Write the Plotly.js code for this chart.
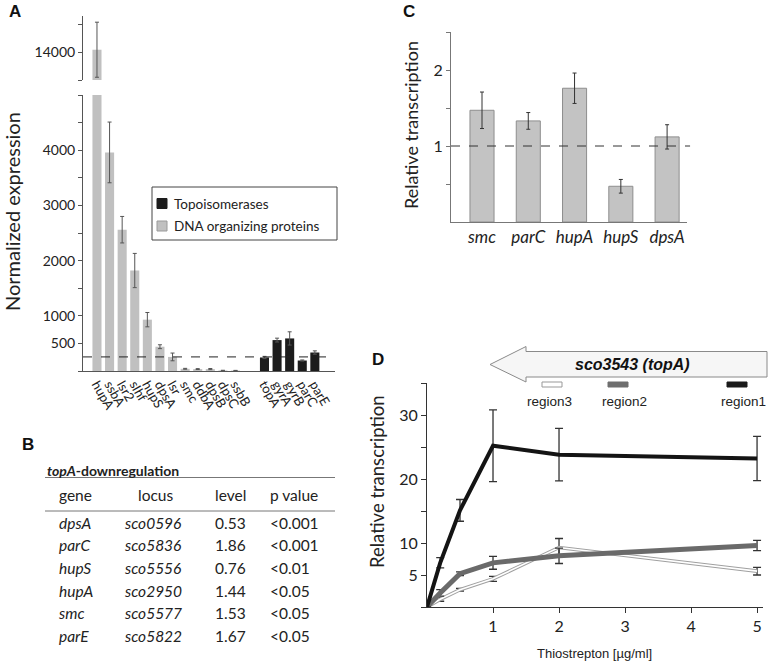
<!DOCTYPE html>
<html><head><meta charset="utf-8">
<script src="https://cdn.plot.ly/plotly-3.0.1.min.js"></script>
<style>html,body{margin:0;padding:0;background:#fff}#chart{width:769px;height:663px}</style>
</head><body><div id="chart"></div>
<script>
// ---------- Panel A data ----------
const dnaGenes = ['hupA','ssbA','lsr2','sIhf','hupS','dpsA','lsr','smc','ddbA','dpsB','dpsC','ssbB'];
const dnaExpr  = [14200, 3960, 2560, 1820, 930, 440, 255, 40, 35, 35, 10, 8];
const dnaErr   = [2000, 550, 240, 310, 130, 35, 70, 8, 8, 10, 3, 3];
const topoGenes = ['topA','gyrA','gyrB','parC','parE'];
const topoExpr  = [245, 560, 590, 190, 335];
const topoErr   = [20, 35, 120, 10, 30];
const thresholdA = 255;
const legendA = ['Topoisomerases', 'DNA organizing proteins'];
const ticksALower = [500, 1000, 2000, 3000, 4000];
const ticksAUpper = [14000];
// ---------- Panel B data ----------
const tblTitle = 'topA-downregulation';
const tblHeader = ['gene', 'locus', 'level', 'p value'];
const tblGene  = ['dpsA','parC','hupS','hupA','smc','parE'];
const tblLocus = ['sco0596','sco5836','sco5556','sco2950','sco5577','sco5822'];
const tblLevel = ['0.53','1.86','0.76','1.44','1.53','1.67'];
const tblP     = ['<0.001','<0.001','<0.01','<0.05','<0.05','<0.05'];
// ---------- Panel C data ----------
const cGenes  = ['smc','parC','hupA','hupS','dpsA'];
const cValues = [1.47, 1.33, 1.76, 0.47, 1.12];
const cErr    = [0.24, 0.11, 0.20, 0.09, 0.16];
const cThreshold = 1;
// ---------- Panel D data ----------
const doses      = [0, 0.2, 0.5, 1, 2, 5];
const region1    = [0, 6.9, 15.1, 25.2, 23.8, 23.2];
const region1Err = [null, 0.8, 1.7, 5.6, 4.1, 3.45];
const region2    = [0, 2.2, 5.2, 6.9, 8.0, 9.6];
const region2Err = [null, 0.5, 0.3, 1.0, 1.2, 0.8];
const region3    = [0, 1.2, 2.7, 4.4, 9.3, 5.6];
const region3Err = [null, 0.3, 0.2, 0.4, 1.4, 0.6];
const regionNames = ['region3', 'region2', 'region1'];
const geneLabelD = 'sco3543 (topA)';

// ---------- helpers ----------
const W = 769, H = 663;
const px = v => v / W, py = v => 1 - v / H;
const LATO = 'Lato, Carlito, "Liberation Sans", sans-serif';
const ARIAL = '"Liberation Sans", Arial, sans-serif';
const esc = s => s.replace(/&/g,'&amp;').replace(/</g,'&lt;').replace(/>/g,'&gt;');
const GRAY = '#c0c0c0', BLACK = '#1c1c1c';

// ---------- positions for panel A ----------
const dnaX = dnaGenes.map((_, i) => i);
const topoX = topoGenes.map((_, j) => dnaGenes.length + 1.3 + j);

const traces = [];
// lower part (0-5000)
traces.push({type:'bar', x:dnaX, y:dnaExpr, xaxis:'x', yaxis:'y', width:0.72,
  marker:{color:GRAY, line:{width:0}},
  error_y:{type:'data', array:dnaErr.map((e,i)=> dnaExpr[i] > 5000 ? null : e), color:'#555', thickness:1, width:2},
  hoverinfo:'skip'});
traces.push({type:'bar', x:topoX, y:topoExpr, xaxis:'x', yaxis:'y', width:0.72,
  marker:{color:BLACK, line:{width:0}},
  error_y:{type:'data', array:topoErr, color:'#555', thickness:1, width:2},
  hoverinfo:'skip'});
// upper (broken) part: bars starting at the break (12000)
traces.push({type:'bar', x:dnaX, y:dnaExpr.map(v => v > 5000 ? v - 12000 : null), xaxis:'x', yaxis:'y2', width:0.72, base:12000,
  marker:{color:GRAY, line:{width:0}},
  error_y:{type:'data', array:dnaErr.map((e,i)=> dnaExpr[i] > 5000 ? e : null), color:'#555', thickness:1, width:2},
  hoverinfo:'skip'});
// Panel C
traces.push({type:'bar', x:cGenes.map((_,i)=>i), y:cValues, xaxis:'x3', yaxis:'y3', width:0.52,
  marker:{color:'#c3c3c3', line:{color:'#8e8e8e', width:1}},
  error_y:{type:'data', array:cErr, color:'#333', thickness:1, width:2},
  hoverinfo:'skip'});
// Panel D
const errD = arr => ({type:'data', array:arr, color:'#333', thickness:1.3, width:4});
traces.push({type:'scatter', mode:'lines', x:doses, y:region3, xaxis:'x4', yaxis:'y4',
  line:{color:'#a0a0a0', width:3.6}, error_y:errD(region3Err), hoverinfo:'skip'});
traces.push({type:'scatter', mode:'lines', x:doses, y:region3, xaxis:'x4', yaxis:'y4',
  line:{color:'#ffffff', width:1.6}, hoverinfo:'skip'});
traces.push({type:'scatter', mode:'lines', x:doses, y:region2, xaxis:'x4', yaxis:'y4',
  line:{color:'#6a6a6a', width:5}, error_y:errD(region2Err), hoverinfo:'skip'});
traces.push({type:'scatter', mode:'lines', x:doses, y:region1, xaxis:'x4', yaxis:'y4',
  line:{color:'#141414', width:4}, error_y:errD(region1Err), hoverinfo:'skip'});

// ---------- axes ----------
const lowerVals = [], lowerText = [];
for (let v = 0; v <= 5000; v += 500) { lowerVals.push(v); lowerText.push(ticksALower.includes(v) ? String(v) : ''); }
const upperVals = [12000, 14000, 16000];
const upperText = upperVals.map(v => ticksAUpper.includes(v) ? String(v) : '');
const dVals = [], dText = [];
for (let v = 0; v <= 35; v += 5) { dVals.push(v); dText.push([5,10,20,30].includes(v) ? String(v) : ''); }

const common = {showgrid:false, zeroline:false, fixedrange:true, showline:true};
const layout = {
  width:W, height:H, margin:{l:0,r:0,t:0,b:0},
  paper_bgcolor:'#ffffff', plot_bgcolor:'rgba(0,0,0,0)',
  showlegend:false, barmode:'overlay',
  font:{family:LATO, color:'#222'},
  xaxis:Object.assign({}, common, {domain:[px(83), px(335)], range:[-1.11, 18.9], anchor:'y',
    tickvals:dnaX.concat(topoX), ticktext:dnaGenes.concat(topoGenes), tickangle:60, ticks:'',
    linecolor:'#555', linewidth:1, tickfont:{size:13, color:'#222'}}),
  yaxis:Object.assign({}, common, {domain:[py(371), py(95)], range:[0, 5000], anchor:'x',
    tickvals:lowerVals, ticktext:lowerText, ticks:'outside', ticklen:4, tickcolor:'#555',
    linecolor:'#555', tickfont:{size:14, color:'#222'}}),
  yaxis2:Object.assign({}, common, {domain:[py(80), py(16)], range:[12000, 16650], anchor:'x',
    tickvals:upperVals, ticktext:upperText, ticks:'outside', ticklen:4, tickcolor:'#555',
    linecolor:'#555', tickfont:{size:14, color:'#222'}}),
  xaxis3:Object.assign({}, common, {domain:[px(451), px(687)], range:[-0.67, 4.43], anchor:'y3',
    tickvals:cGenes.map((_,i)=>i), ticktext:cGenes.map(g=>'<i>'+g+'</i>'), ticks:'',
    linecolor:'#777', tickfont:{size:17, color:'#222'}}),
  yaxis3:Object.assign({}, common, {domain:[py(222), py(32)], range:[0, 2.5], anchor:'x3',
    tickvals:[0.5,1,1.5,2,2.5], ticktext:['','1','','2',''], ticks:'outside', ticklen:4, tickcolor:'#777',
    linecolor:'#777', tickfont:{size:16, color:'#222'}}),
  xaxis4:Object.assign({}, common, {domain:[px(427), px(763)], range:[0, 5.09], anchor:'y4',
    tickvals:[1,2,3,4,5], ticks:'outside', ticklen:5, tickcolor:'#333',
    linecolor:'#333', tickfont:{size:16, color:'#222'}}),
  yaxis4:Object.assign({}, common, {domain:[py(607), py(383)], range:[0, 35], anchor:'x4',
    tickvals:dVals, ticktext:dText, ticks:'outside', ticklen:5, tickcolor:'#333',
    linecolor:'#333', tickfont:{size:16, color:'#222'}}),
  shapes:[], annotations:[]
};

const S = layout.shapes, A = layout.annotations;
// threshold lines
S.push({type:'line', xref:'x domain', x0:0, x1:1, yref:'y', y0:thresholdA, y1:thresholdA,
  line:{color:'#222', width:1, dash:'dash'}});
S.push({type:'line', xref:'x3 domain', x0:0, x1:1.013, yref:'y3', y0:cThreshold, y1:cThreshold,
  line:{color:'#333', width:1, dash:'dash'}});

// legend A (manual box)
S.push({type:'rect', xref:'paper', yref:'paper', x0:px(152), x1:px(337), y0:py(240), y1:py(187),
  line:{color:'#444', width:1}, fillcolor:'rgba(255,255,255,0)'});
[BLACK, GRAY].forEach((c, i) => {
  const cy = 203.5 + i * 22.5;
  S.push({type:'rect', xref:'paper', yref:'paper', x0:px(157), x1:px(167), y0:py(cy+5), y1:py(cy-5),
    line:{color: i===0 ? BLACK : '#9a9a9a', width:1}, fillcolor:c});
  A.push({text:legendA[i], xref:'paper', yref:'paper', x:px(172), y:py(cy), xanchor:'left', yanchor:'middle',
    showarrow:false, font:{family:LATO, size:13.5, color:'#222'}});
});

// axis titles
A.push({text:'Normalized expression', xref:'paper', yref:'paper', x:px(12), y:py(212), textangle:-90,
  showarrow:false, xanchor:'center', yanchor:'middle', font:{family:LATO, size:20, color:'#222'}});
A.push({text:'Relative transcription', xref:'paper', yref:'paper', x:px(411), y:py(125), textangle:-90,
  showarrow:false, xanchor:'center', yanchor:'middle', font:{family:LATO, size:18, color:'#222'}});
A.push({text:'Relative transcription', xref:'paper', yref:'paper', x:px(377), y:py(482), textangle:-90,
  showarrow:false, xanchor:'center', yanchor:'middle', font:{family:LATO, size:18.5, color:'#222'}});
A.push({text:'Thiostrepton [µg/ml]', xref:'paper', yref:'paper', x:px(594), y:py(653),
  showarrow:false, xanchor:'center', yanchor:'middle', font:{family:ARIAL, size:13, color:'#222'}});

// panel letters
[['A',7,11],['B',20,445],['C',401,11],['D',370,359]].forEach(([t,x,y]) => {
  A.push({text:'<b>'+t+'</b>', xref:'paper', yref:'paper', x:px(x), y:py(y), xanchor:'left', yanchor:'middle',
    showarrow:false, font:{family:ARIAL, size:17, color:'#111'}});
});

// ---------- Panel B table ----------
A.push({text:'<b><i>topA</i>-downregulation</b>', xref:'paper', yref:'paper', x:px(45), y:py(470),
  xanchor:'left', yanchor:'middle', showarrow:false, font:{family:LATO, size:14, color:'#222'}});
S.push({type:'line', xref:'paper', yref:'paper', x0:px(45), x1:px(335), y0:py(477.5), y1:py(477.5), line:{color:'#777', width:1}});
S.push({type:'line', xref:'paper', yref:'paper', x0:px(45), x1:px(335), y0:py(511), y1:py(511), line:{color:'#777', width:1}});
const colX = [57, 136, 213, 268];
tblHeader.forEach((h, j) => {
  A.push({text:esc(h), xref:'paper', yref:'paper', x:px(colX[j]), y:py(495), xanchor:'left', yanchor:'middle',
    showarrow:false, font:{family:LATO, size:15.5, color:'#222'}});
});
const rowX = [57, 123, 213, 268];
tblGene.forEach((g, i) => {
  const y = 522.7 + i * 22.65;
  const cells = ['<i>'+esc(g)+'</i>', '<i>'+esc(tblLocus[i])+'</i>', esc(tblLevel[i]), esc(tblP[i])];
  cells.forEach((c, j) => {
    A.push({text:c, xref:'paper', yref:'paper', x:px(rowX[j]), y:py(y), xanchor:'left', yanchor:'middle',
      showarrow:false, font:{family:LATO, size:15.5, color:'#222'}});
  });
});

// ---------- Panel D gene arrow and region legend ----------
const arrowPts = [[767,351.5],[526,351.5],[526,346.5],[490,364.5],[526,382],[526,377],[767,377]];
S.push({type:'path', xref:'paper', yref:'paper',
  path:'M' + arrowPts.map(p => px(p[0]) + ',' + py(p[1])).join(' L') + ' Z',
  line:{color:'#8a8a8a', width:1}, fillcolor:'#f6f6f6'});
A.push({text:'<b><i>' + esc(geneLabelD) + '</i></b>', xref:'paper', yref:'paper', x:px(632), y:py(364.5),
  xanchor:'center', yanchor:'middle', showarrow:false, font:{family:ARIAL, size:16, color:'#111'}});
const regBars = [
  {x0:542, x1:562, fill:'#ffffff', line:'#999999', cx:549},
  {x0:608, x1:628, fill:'#6e6e6e', line:'#6e6e6e', cx:624},
  {x0:727, x1:747, fill:'#1a1a1a', line:'#1a1a1a', cx:743}
];
regBars.forEach((b, i) => {
  S.push({type:'rect', xref:'paper', yref:'paper', x0:px(b.x0), x1:px(b.x1), y0:py(387), y1:py(382),
    line:{color:b.line, width:1}, fillcolor:b.fill});
  A.push({text:regionNames[i], xref:'paper', yref:'paper', x:px(b.cx), y:py(402), xanchor:'center', yanchor:'middle',
    showarrow:false, font:{family:ARIAL, size:13.5, color:'#222'}});
});

Plotly.newPlot('chart', traces, layout, {staticPlot:true, displayModeBar:false});
</script>
</body></html>
